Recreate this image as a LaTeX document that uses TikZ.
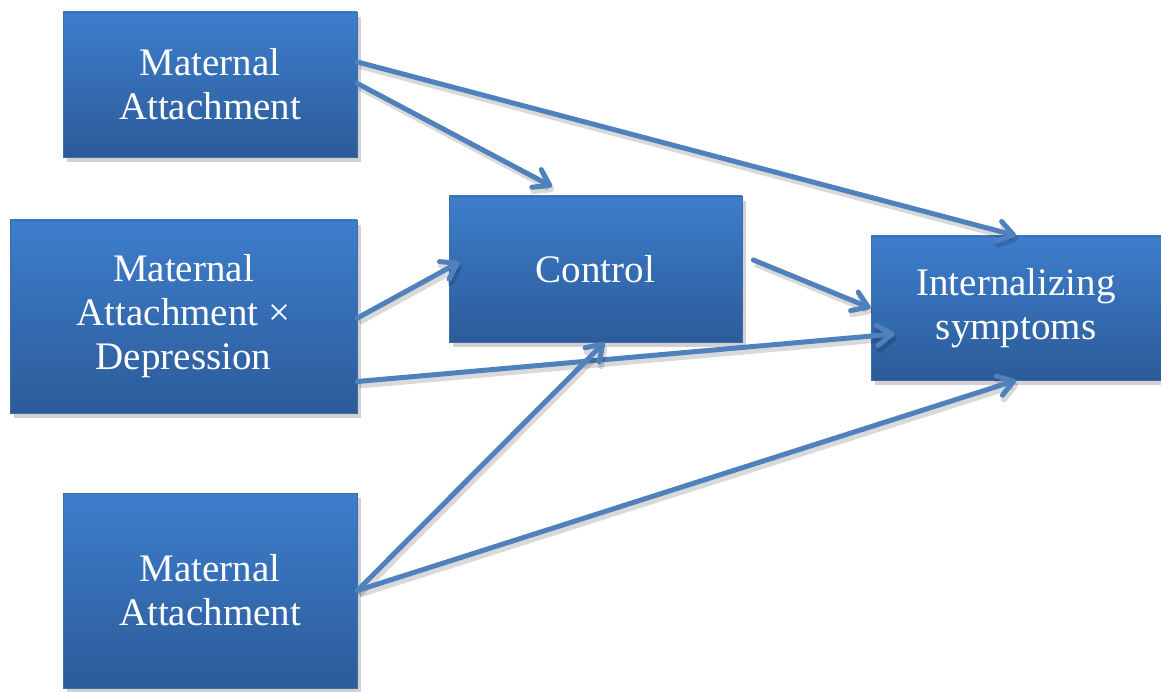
\documentclass[tikz,border=0pt]{standalone}
\usepackage{fontspec}
\setmainfont{Liberation Serif}
\usetikzlibrary{arrows.meta,shadows,calc}
\definecolor{boxtop}{RGB}{61,126,204}
\definecolor{boxbot}{RGB}{44,91,153}
\definecolor{boxedge}{RGB}{62,108,170}
\definecolor{linkblue}{RGB}{79,129,189}
\begin{document}
\begin{tikzpicture}[x=1pt,y=-1pt,
  box/.style={rectangle, draw=boxedge, line width=0.8pt,
    top color=boxtop, bottom color=boxbot, text=white, align=center,
    font=\fontsize{39}{44}\selectfont, inner sep=0pt,
    drop shadow={shadow xshift=4pt, shadow yshift=-5pt, opacity=0.3, fill=black!60}},
  link/.style={draw=linkblue, line width=5pt, line cap=round,
    -{Straight Barb[length=15pt,width=20pt,line cap=round,line join=round]},
    preaction={draw=black, opacity=0.15, line width=6pt,
      transform canvas={xshift=2pt,yshift=-4pt}}}
]
\useasboundingbox (0,0) rectangle (1161,692);

% boxes
\node[box, minimum width=294pt, minimum height=145pt] (m1) at (210,84.5) {Maternal\\Attachment};
\node[box, minimum width=347pt, minimum height=193pt] (m2) at (183.5,316.5) {Maternal\\Attachment ×\\Depression};
\node[box, minimum width=294pt, minimum height=195pt] (m3) at (210,590.5) {Maternal\\Attachment};
\node[box, minimum width=293pt, minimum height=146pt] (ctrl) at (595.5,269) {Control};
\node[box, minimum width=290pt, minimum height=144pt] (int) at (1016,308) {Internalizing\\symptoms};

% paths
\draw[link] ($(m1.east)+(0,-22.5)$) -- (int.north);
\draw[link] ($(m1.east)+(0,-1)$) -- ($(ctrl.north)+(-43.5,-9)$);
\draw[link] ($(m2.east)+(0,1.5)$) -- ($(ctrl.west)+(11,-7)$);
\draw[link] ($(ctrl.east)+(11,-9)$) -- (int.west);
\draw[link] ($(m2.east)+(0,65)$) -- ($(int.west)+(24,26)$);
\draw[link] (m3.east) -- ($(ctrl.south)+(9,0)$);
\draw[link] (m3.east) -- (int.south);
\end{tikzpicture}
\end{document}
